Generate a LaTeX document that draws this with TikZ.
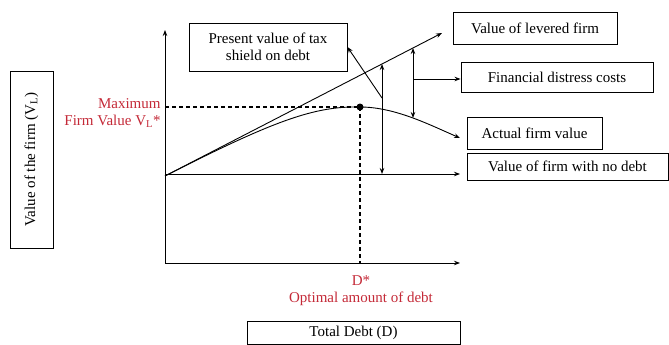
\documentclass[tikz,border=0pt]{standalone}
\usepackage{fontspec}
\setmainfont{Liberation Serif}
\usetikzlibrary{arrows.meta}
\definecolor{optred}{RGB}{196,42,56}
\tikzset{
  box/.style={draw,line width=0.9pt,inner sep=2pt,align=center},
  redlabel/.style={text=optred,align=center,inner sep=0pt},
  tip/.style={-{Stealth[length=6pt,width=4.5pt]}},
  twotip/.style={{Stealth[length=6pt,width=4.5pt]}-{Stealth[length=6pt,width=4.5pt]}},
  guide/.style={dash pattern=on 4pt off 3pt,line width=1.1pt}
}
\begin{document}
\begin{tikzpicture}[x=1pt,y=-1pt,line width=0.9pt,font=\fontsize{15}{17}\selectfont]
\useasboundingbox (0,0) rectangle (669,345);
% axes
\coordinate(origin) at (165,263);
\coordinate(ytop) at (165,30);
\coordinate(xend) at (460,263);
\draw[tip] (origin) -- (ytop);
\draw[tip] (origin) -- (xend);

% labels in boxes
\node(ylabel) at (31.5,159.5)[box,rotate=90,minimum width=177pt,minimum height=43pt] {Value of the firm (V\textsubscript{L})};
\node(taxbox) at (268,47)[box,minimum width=158pt,minimum height=48pt] {Present value of tax\\shield on debt};
\node(levered) at (535,28)[box,minimum width=164pt,minimum height=32pt] {Value of levered firm};
\node(distress) at (557,77)[box,minimum width=192pt,minimum height=30pt] {Financial distress costs};
\node(actual) at (534.5,133)[box,minimum width=135pt,minimum height=32pt] {Actual firm value};
\node(nodebt) at (567.5,166.5)[box,minimum width=201pt,minimum height=27pt] {Value of firm with no debt};
\node(debtlabel) at (353.5,333)[box,minimum width=213pt,minimum height=23pt] {Total Debt (D)};

% red labels
\node(maxvalue) at (161,113)[redlabel,anchor=east,align=right] {Maximum\\Firm Value V\textsubscript{L}*};
\node(optimal) at (361,291)[redlabel] {D*\\Optimal amount of debt};

% value lines
\coordinate(start) at (165,176);
\coordinate(leveredend) at (442,33);
\coordinate(nodebtstart) at (165,174);
\coordinate(nodebtend) at (460,174);
\coordinate(top) at (360,107);
\coordinate(actualend) at (460,138);
\draw[tip] (start) -- (leveredend);
\draw[tip] (nodebtstart) -- (nodebtend);
\draw[tip] (start) .. controls (275,120) and (315,106) .. (top)
  .. controls (395,107) and (430,125) .. (actualend);

% optimum
\coordinate(ymax) at (165,107);
\coordinate(dstar) at (360,263);
\draw[guide] (ymax) -- (top);
\draw[guide] (top) -- (dstar);
\node(peak) at (top)[circle,fill,inner sep=0pt,minimum size=7pt] {};

% tax shield and distress costs
\coordinate(taxtop) at (382,64);
\coordinate(taxbot) at (382,174);
\coordinate(taxmid) at (382,98);
\draw[twotip] (taxtop) -- (taxbot);
\draw[tip] (taxmid) -- (taxbox.east);
\coordinate(costtop) at (413,48);
\coordinate(costbot) at (413,118);
\coordinate(costmid) at (413,79);
\draw[twotip] (costtop) -- (costbot);
\draw[tip] (costmid) -- (costmid -| distress.west);
\end{tikzpicture}
\end{document}
